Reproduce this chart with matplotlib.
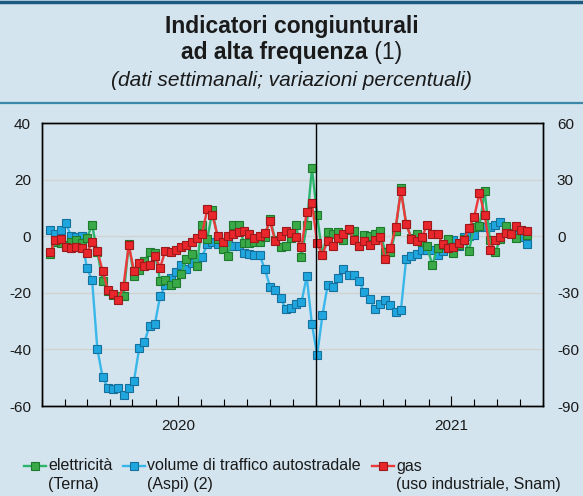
import matplotlib
matplotlib.use('Agg')
import matplotlib.pyplot as plt
import matplotlib.dates as mdates
from matplotlib.lines import Line2D
import pandas as pd

plt.rcParams['font.family'] = ['Liberation Sans', 'DejaVu Sans']
plt.rcParams['axes.unicode_minus'] = False

# settimane (domenica) da gennaio 2020
settimane = pd.date_range('2020-01-12', periods=92, freq='7D')

# asse sinistro
elettricita = [
    -6.4, -2.0, -2.5, -3.0, -2.0, -1.5, -2.5, -0.6, 3.9, -5.5,
    -15.8, -19.2, -20.9, -21.3, -21.3, -2.8, -14.2, -11.9, -8.9, -5.6,
    -6.0, -15.8, -15.4, -17.2, -16.4, -13.3, -8.1, -6.2, -10.5, 4.1,
    -1.0, 9.1, -1.0, -4.5, -6.9, 3.9, 4.1, -2.5, -2.5, -2.2,
    -2.0, -0.3, 6.2, -1.3, -3.9, -3.5, -0.8, 3.9, -7.2, 3.9,
    24.0, 7.4, -6.7, 1.5, 0.8, 1.5, -1.2, 2.2, 1.7, -3.6,
    0.6, 0.0, 0.7, 1.8, -5.5, -5.7, 2.0, 16.9, 4.4, -0.7,
    0.8, -2.0, -3.6, -10.2, -4.0, -3.0, -1.1, -6.0, -3.0, -1.0,
    -5.1, 3.2, 3.5, 16.0, -1.3, -5.7, -1.0, 3.7, 1.0, -0.5,
    2.2, 0.6]

# asse destro
traffico = [
    3.2, 1.2, 3.2, 6.8, 0.0, -0.6, 0.0, -17.0, -23.1, -59.7,
    -74.7, -80.3, -80.9, -80.3, -84.0, -80.3, -76.7, -59.3, -56.0, -47.4,
    -46.4, -31.7, -26.1, -22.2, -18.8, -15.2, -17.3, -14.0, -12.3, -11.1,
    -4.2, -3.0, -4.1, -5.4, -3.0, -5.0, -5.1, -8.9, -9.6, -10.2,
    -10.1, -17.3, -26.9, -28.4, -33.0, -38.4, -38.1, -35.9, -35.0, -21.3,
    -46.7, -62.9, -42.0, -26.0, -26.9, -22.1, -17.3, -20.4, -20.4, -24.0,
    -29.7, -33.2, -38.7, -35.9, -33.6, -36.3, -40.1, -39.2, -12.0, -10.7,
    -9.6, -7.2, -7.2, -7.2, -10.2, -8.1, -5.4, -2.0, -5.1, -0.6,
    0.2, 0.6, 5.1, 5.1, 4.8, 5.9, 7.7, 4.7, 1.7, 0.8,
    -0.6, -4.2]

# asse sinistro
gas = [
    -5.5, -1.3, -1.1, -3.9, -4.1, -3.9, -4.1, -5.9, -2.1, -5.1,
    -12.2, -18.9, -20.5, -22.7, -17.5, -3.1, -12.2, -9.3, -10.7, -10.1,
    -6.9, -11.1, -5.1, -5.5, -4.8, -3.9, -3.2, -2.1, -0.6, 0.9,
    9.5, 7.4, 0.0, -2.1, 0.0, 0.9, 1.5, 2.0, 0.8, -0.7,
    0.0, 1.1, 5.2, -1.8, 0.0, 1.8, 1.1, -0.4, -3.8, 8.5,
    11.8, -2.5, -6.5, -1.7, -3.5, -0.6, 0.7, 2.5, -1.3, -3.3,
    -1.6, -3.2, -1.4, -0.4, -8.1, -4.2, 3.3, 16.0, 4.3, -0.9,
    -1.6, -0.4, 3.9, 0.8, 0.8, -2.8, -4.1, -3.9, -2.5, -1.3,
    2.8, 6.9, 15.2, 7.5, -4.8, -1.3, -0.4, 1.1, 0.8, 3.5,
    2.1, 2.0]

yticks_sx = [-60, -40, -20, 0, 20, 40]
yticks_dx = [-90, -60, -30, 0, 30, 60]
anni = ['2020', '2021']

BG = '#d3e4ee'
VERDE, VERDE_BORDO, VERDE_LINEA = '#3aa948', '#1e7a2d', '#2db56c'
BLU, BLU_BORDO, BLU_LINEA = '#1fa6df', '#16709c', '#3ab7ea'
ROSSO, ROSSO_BORDO, ROSSO_LINEA = '#e8262b', '#9c1a1c', '#ec3a3a'
TESTO = '#1a1a1a'

W, H = 583, 496
fig = plt.figure(figsize=(W / 100, H / 100), dpi=100, facecolor=BG)

ax = fig.add_axes([42 / W, 1 - 406 / H, 501 / W, 283 / H])
ax2 = ax.twinx()
ax.set_zorder(ax2.get_zorder() + 1)
ax.patch.set_visible(False)
ax2.patch.set_facecolor('white')

stile = dict(marker='s', markersize=5.6, markeredgewidth=0.8, linewidth=1.7)
ax2.plot(settimane, traffico, color=BLU_LINEA, markerfacecolor=BLU,
         markeredgecolor=BLU_BORDO, **stile)
ax.plot(settimane, elettricita, color=VERDE_LINEA, markerfacecolor=VERDE,
        markeredgecolor=VERDE_BORDO, **stile)
ax.plot(settimane, gas, color=ROSSO_LINEA, markerfacecolor=ROSSO,
        markeredgecolor=ROSSO_BORDO, **stile)

ax.set_ylim(-60, 40)
ax2.set_ylim(-90, 60)
ax.set_yticks(yticks_sx)
ax2.set_yticks(yticks_dx)
ax2.grid(axis='y', color='#d2d2d2', linewidth=1)
ax2.set_axisbelow(True)

ax.set_xlim(pd.Timestamp('2020-01-01'), pd.Timestamp('2021-11-01'))
ax.xaxis.set_major_locator(mdates.MonthLocator(bymonth=7))
ax.xaxis.set_minor_locator(mdates.MonthLocator())
ax.xaxis.set_major_formatter(plt.NullFormatter())
ax.tick_params(axis='x', which='minor', direction='in', length=5, width=0.8)
ax.tick_params(axis='x', which='major', direction='in', length=7.5, width=0.8)
ax.axvline(pd.Timestamp('2021-01-01'), color='black', linewidth=1)

ax.tick_params(axis='y', length=0, labelsize=11, pad=8, colors=TESTO)
ax2.tick_params(axis='y', length=0, labelsize=11, pad=10, colors=TESTO)
for a in (ax, ax2):
    for s in a.spines.values():
        s.set_color('black')
        s.set_linewidth(1)

for anno in anni:
    ax.text(pd.Timestamp(anno + '-07-01'), -0.07, anno,
            transform=ax.get_xaxis_transform(), ha='center', va='center',
            fontsize=11, color=TESTO)

# intestazione
fig.add_artist(Line2D([0, 1], [1 - 1.5 / H] * 2, color='#1d5a80', linewidth=2.5))
fig.add_artist(Line2D([0, 1], [1 - 103 / H] * 2, color='#3c86aa', linewidth=1.6))
fig.text(0.5, 1 - 27 / H, 'Indicatori congiunturali', ha='center', va='center',
         fontsize=16.5, fontweight='bold', color=TESTO)
r = fig.canvas.get_renderer()
t1 = fig.text(0, 1 - 53 / H, 'ad alta frequenza', ha='left', va='center',
              fontsize=16.5, fontweight='bold', color=TESTO)
t2 = fig.text(0, 1 - 53 / H, ' (1)', ha='left', va='center',
              fontsize=16.5, color=TESTO)
w1 = t1.get_window_extent(r).width
w2 = t2.get_window_extent(r).width
x0 = (W - w1 - w2) / 2
t1.set_x(x0 / W)
t2.set_x((x0 + w1) / W)
fig.text(0.5, 1 - 80 / H, '(dati settimanali; variazioni percentuali)',
         ha='center', va='center', fontsize=15, style='italic', color=TESTO)

# legenda
voci = [(24, VERDE_LINEA, VERDE, VERDE_BORDO, 'elettricità', '(Terna)'),
        (123, BLU_LINEA, BLU, BLU_BORDO, 'volume di traffico autostradale', '(Aspi) (2)'),
        (372, ROSSO_LINEA, ROSSO, ROSSO_BORDO, 'gas', '(uso industriale, Snam)')]
y1, y2 = 1 - 466 / H, 1 - 485 / H
for xs, cl, cf, ce, riga1, riga2 in voci:
    fig.add_artist(Line2D([xs / W, (xs + 22) / W], [y1, y1], color=cl, linewidth=1.7))
    fig.add_artist(Line2D([(xs + 11) / W], [y1], marker='s', markersize=5.6,
                          markerfacecolor=cf, markeredgecolor=ce, markeredgewidth=0.8))
    fig.text((xs + 24) / W, y1, riga1, ha='left', va='center', fontsize=11.5, color=TESTO)
    fig.text((xs + 24) / W, y2, riga2, ha='left', va='center', fontsize=11.5, color=TESTO)

fig.savefig('out.png', dpi=100, facecolor=BG)
